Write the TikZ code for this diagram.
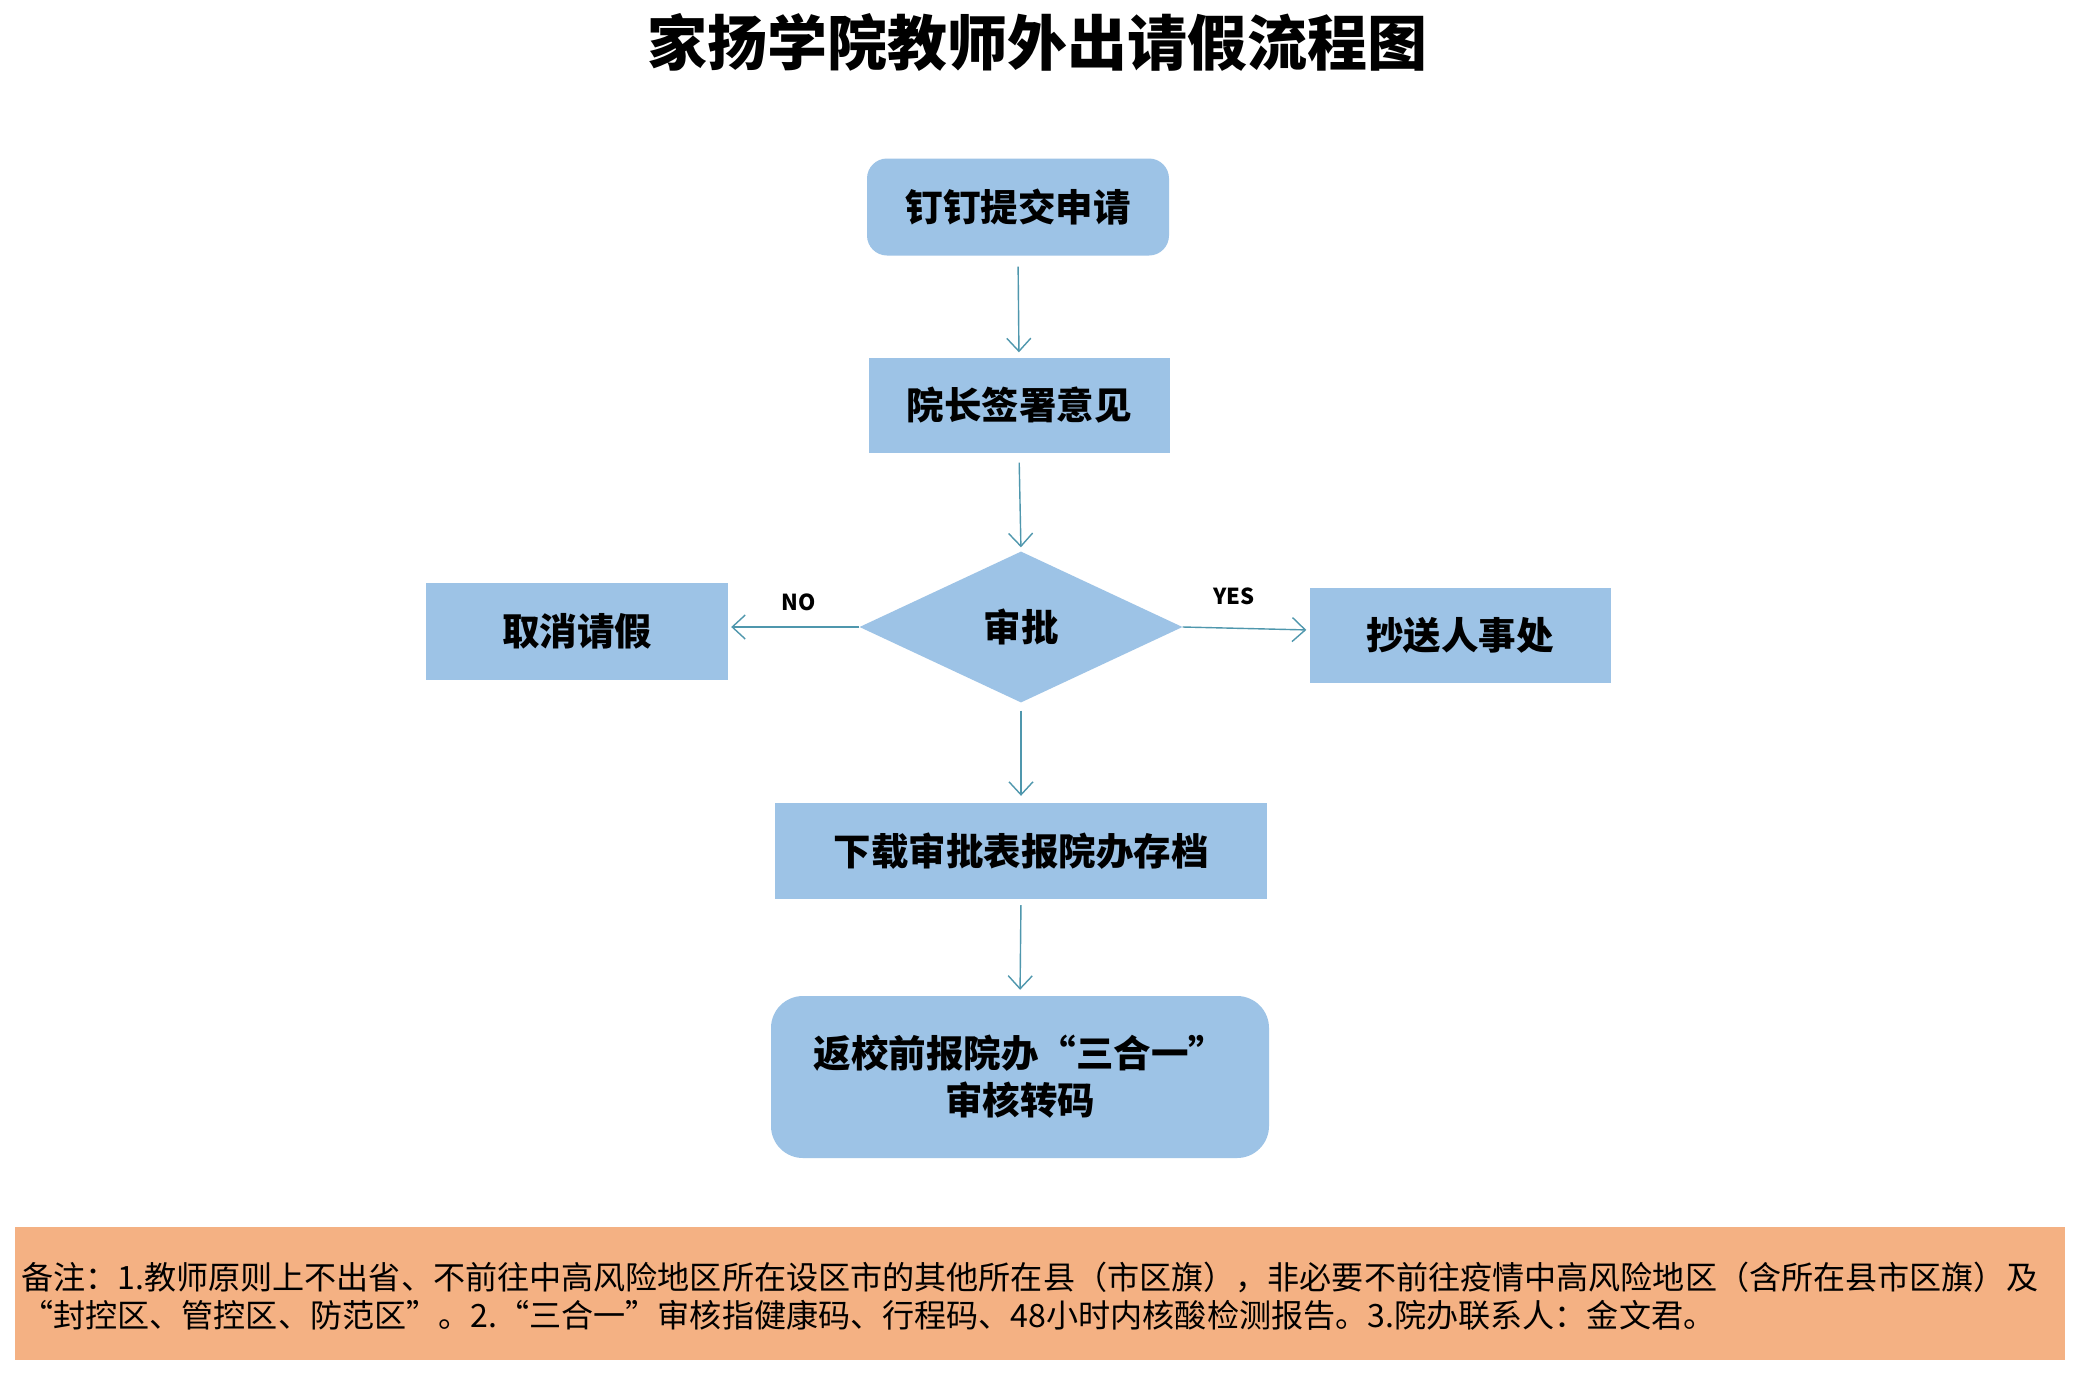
\documentclass[tikz,border=0pt]{standalone}
\usepackage{fontspec}
\setmainfont{Noto Sans CJK SC}
\newfontfamily\cjkfont{Noto Sans CJK SC}
\usetikzlibrary{arrows.meta,shapes.geometric}
\definecolor{boxblue}{HTML}{9DC3E6}
\definecolor{arrowc}{HTML}{4F97AD}
\definecolor{noteorange}{HTML}{F4B183}
\newcommand{\fwq}[1]{{\addfontfeatures{RawFeature=+fwid}#1}}
\begin{document}
\begin{tikzpicture}[x=1pt,y=-1pt,
  flowbox/.style={fill=boxblue, draw=none, inner sep=0pt, align=center,
    font=\cjkfont\bfseries\fontsize{37.5}{47}\selectfont},
  decision/.style={diamond, fill=boxblue, draw=none, inner sep=0pt, aspect=2,
    font=\cjkfont\bfseries\fontsize{37.5}{44}\selectfont},
  conn/.style={draw=arrowc, line width=1.4pt, -{Straight Barb[length=13pt,width=24pt,line width=1.4pt]}},
  yn/.style={font=\cjkfont\bfseries\fontsize{22}{26}\selectfont},
]
\useasboundingbox (0,0) rectangle (2080,1373);
\fill[white] (0,0) rectangle (2080,1373);

\node[font=\cjkfont\bfseries\fontsize{60}{66}\selectfont] (title) at (1037,42) {家扬学院教师外出请假流程图};

\node[flowbox, rounded corners=20pt, minimum width=302pt, minimum height=97pt] (submit) at (1018,207) {钉钉提交申请};
\node[flowbox, minimum width=301pt, minimum height=95pt] (sign) at (1019,405) {院长签署意见};
\node[decision, minimum width=323pt, minimum height=151pt] (approve) at (1021,627) {审批};
\node[flowbox, minimum width=302pt, minimum height=97pt] (cancel) at (577,631) {取消请假};
\node[flowbox, minimum width=301pt, minimum height=95pt] (hr) at (1460,635) {抄送人事处};
\node[flowbox, minimum width=492pt, minimum height=96pt] (archive) at (1021,851) {下载审批表报院办存档};
\node[flowbox, rounded corners=32pt, minimum width=498pt, minimum height=162pt] (return) at (1020,1077) {返校前报院办\fwq{“}三合一\fwq{”}\\审核转码};

\draw[conn, shorten <=11pt, shorten >=5pt] (submit.south) -- (sign.north);
\draw[conn, shorten <=10pt, shorten >=4pt] (sign.south) -- (approve.north);
\draw[conn, shorten <=8pt, shorten >=7pt] (approve.south) -- (archive.north);
\draw[conn, shorten <=6pt, shorten >=6pt] (archive.south) -- (return.north);
\draw[conn, shorten >=3pt] (approve.west) -- (approve.west -| cancel.east);
\draw[conn, shorten >=3pt] (approve.east) -- ([yshift=5pt]hr.west);

\node[yn] (nolab) at (799,602) {NO};
\node[yn] (yeslab) at (1234,596) {YES};

\node[fill=noteorange, draw=none, minimum width=2050pt, minimum height=133pt, inner sep=0pt] (note) at (1040,1293.5) {};
\node[anchor=west, align=left, inner sep=0pt, font=\cjkfont\fontsize{32.1}{38}\selectfont] (notetext) at (21,1296)
{备注：1.教师原则上不出省、不前往中高风险地区所在设区市的其他所在县（市区旗），非必要不前往疫情中高风险地区（含所在县市区旗）及\\
\fwq{“}封控区、管控区、防范区\fwq{”}。2.\fwq{“}三合一\fwq{”}审核指健康码、行程码、48小时内核酸检测报告。3.院办联系人：金文君。};
\end{tikzpicture}
\end{document}
